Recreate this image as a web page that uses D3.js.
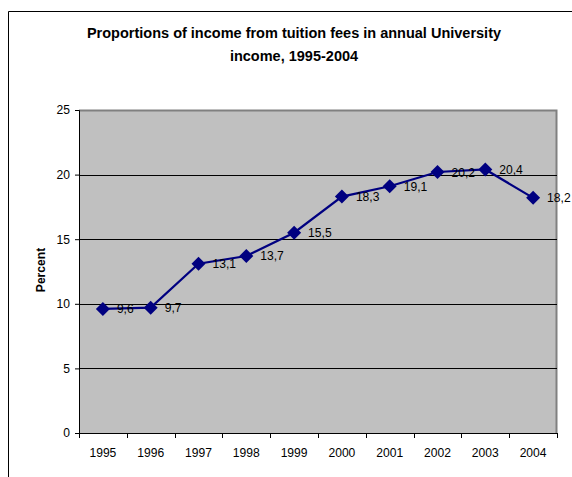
<!DOCTYPE html>
<html><head><meta charset="utf-8">
<script src="https://cdn.jsdelivr.net/npm/d3@7"></script>
<style>body{margin:0;background:#fff;} svg{display:block;font-family:Arial,"Liberation Sans",sans-serif;}</style>
</head><body>
<svg id="c" width="572" height="477"></svg>
<script>
const years = ["1995","1996","1997","1998","1999","2000","2001","2002","2003","2004"];
const values = [9.6, 9.7, 13.1, 13.7, 15.5, 18.3, 19.1, 20.2, 20.4, 18.2];
const valueLabels = ["9,6","9,7","13,1","13,7","15,5","18,3","19,1","20,2","20,4","18,2"];
const yTicks = [0, 5, 10, 15, 20, 25];
const titleLines = ["Proportions of income from tuition fees in annual University", "income, 1995-2004"];
const yTitle = "Percent";

const FONT = "Arial, 'Liberation Sans', sans-serif";
const FS = 12.1;
const svg = d3.select("#c");
const L = 79, R = 557, T = 110, B = 433;

// outer chart frame
svg.append("path").attr("d", "M8.5,480 V11.5 H580").attr("fill","none").attr("stroke","#000").attr("stroke-width",1);

const x = d3.scaleBand().domain(years).range([L, R]).padding(0);
const y = d3.scaleLinear().domain([0, 25]).range([B, T]);

// plot area
svg.append("rect").attr("x", L).attr("y", T).attr("width", R - L).attr("height", B - T).attr("fill", "#C0C0C0");
svg.append("path").attr("d", `M${L},${T+0.5} H${R-0.5} V${B}`).attr("fill","none").attr("stroke","#808080").attr("stroke-width",2);

// gridlines
svg.append("g").selectAll("line").data(yTicks.filter(d => d > 0 && d < 25)).join("line")
  .attr("x1", L).attr("x2", R).attr("y1", d => Math.round(y(d)) + 0.5).attr("y2", d => Math.round(y(d)) + 0.5)
  .attr("stroke", "#000").attr("stroke-width", 1);

// y axis
const yAxis = svg.append("g").attr("transform", `translate(${L},0)`)
  .call(d3.axisLeft(y).tickValues(yTicks).tickSize(4).tickPadding(5));
yAxis.select(".domain").attr("stroke","#000");
yAxis.selectAll("text").attr("font-size", FS).attr("font-family", FONT).attr("fill","#000");

// x axis with ticks between categories
const xAxisG = svg.append("g").attr("transform", `translate(0,${B})`);
xAxisG.append("line").attr("x1", L).attr("x2", R).attr("y1", 0.5).attr("y2", 0.5).attr("stroke","#000");
const bounds = years.map(d => x(d)).concat([R]);
xAxisG.selectAll("line.tk").data(bounds).join("line").attr("class","tk")
  .attr("x1", d => Math.round(d) + 0.5).attr("x2", d => Math.round(d) + 0.5).attr("y1", 0).attr("y2", 5).attr("stroke","#000");
xAxisG.selectAll("text").data(years).join("text")
  .attr("x", d => x(d) + x.bandwidth() / 2).attr("y", 24)
  .attr("text-anchor","middle").attr("font-size", FS).attr("fill","#000").text(d => d);

// line
const cx = (d, i) => x(years[i]) + x.bandwidth() / 2;
svg.append("path").datum(values)
  .attr("d", d3.line().x((d, i) => cx(d, i)).y(d => y(d)))
  .attr("fill","none").attr("stroke","#000080").attr("stroke-width",2.2);

// markers
svg.append("g").selectAll("path").data(values).join("path")
  .attr("transform", (d, i) => `translate(${cx(d, i)},${y(d)})`)
  .attr("d", "M0,-7 L7,0 L0,7 L-7,0 Z").attr("fill","#000080");

// data labels
svg.append("g").selectAll("text").data(values).join("text")
  .attr("x", (d, i) => cx(d, i) + 14).attr("y", d => y(d) + 4.5)
  .attr("font-size", FS).attr("fill","#000").text((d, i) => valueLabels[i]);

// title
svg.append("g").selectAll("text").data(titleLines).join("text")
  .attr("x", 294).attr("y", (d, i) => 38 + i * 23)
  .attr("text-anchor","middle").attr("font-size", 14.5).attr("font-weight","bold").attr("fill","#000").text(d => d);

// y title
svg.append("text").attr("transform", `translate(45,270) rotate(-90)`)
  .attr("text-anchor","middle").attr("font-size", FS).attr("font-weight","bold").attr("fill","#000").text(yTitle);
</script>
</body></html>
